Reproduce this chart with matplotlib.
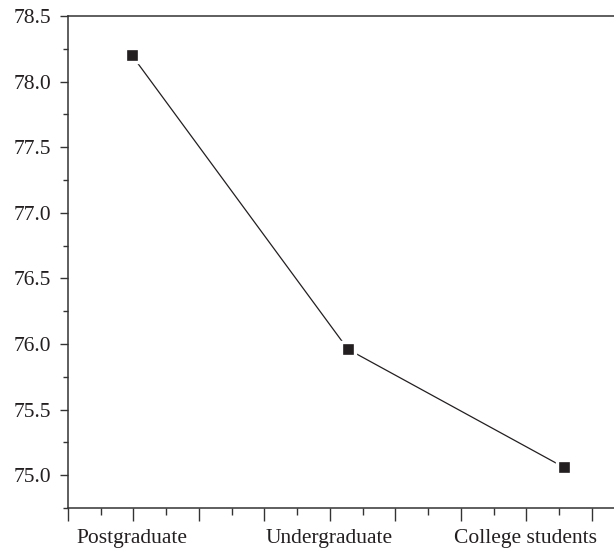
import matplotlib
matplotlib.use("Agg")
from matplotlib import pyplot as plt
from matplotlib.transforms import blended_transform_factory
import numpy as np

categories = ["Postgraduate", "Undergraduate", "College students"]
scores = [78.2, 75.96, 75.06]
y_ticks = [75.0, 75.5, 76.0, 76.5, 77.0, 77.5, 78.0, 78.5]

plt.rcParams["font.family"] = ["Liberation Serif", "DejaVu Serif"]
plt.rcParams["font.size"] = 15.5

fig = plt.figure(figsize=(6.14, 5.5), dpi=100)
# axes runs off the right edge, like the source
ax = fig.add_axes([68 / 614, 1 - 508 / 550, 557 / 614, (508 - 16) / 550])

x = np.arange(len(categories))
ax.plot(x, scores, color="#231f20", lw=0.9, zorder=2)
ax.plot(x, scores, ls="none", marker="s", markersize=9.6,
        markerfacecolor="#231f20", markeredgecolor="white",
        markeredgewidth=2.4, zorder=3)

ax.set_xlim(-0.296, 2.283)
ax.set_ylim(74.76, 78.5)

step = 0.3032
major = -0.296 + step * np.arange(0, 9)
minor = major + step / 2
ax.set_xticks(major)
ax.set_xticks(minor, minor=True)
ax.set_xticklabels([])
ax.set_yticks(y_ticks)
ax.set_yticks(np.arange(74.75, 78.5, 0.25), minor=True)
ax.set_yticklabels([f"{v:.1f}" for v in y_ticks])

ax.tick_params(axis="x", which="major", direction="out", length=9, width=1, color="#333333")
ax.tick_params(axis="x", which="minor", direction="out", length=5, width=1, color="#333333")
ax.tick_params(axis="y", which="major", direction="out", length=6, width=1, color="#333333", pad=6)
ax.tick_params(axis="y", which="minor", direction="out", length=3.5, width=1, color="#333333")
ax.tick_params(axis="y", labelcolor="#231f20")

for s in ["left", "bottom", "top"]:
    ax.spines[s].set_color("#333333")
    ax.spines[s].set_linewidth(1.1)
ax.spines["right"].set_visible(False)

# category labels under the axis
trans = blended_transform_factory(ax.transData, ax.transAxes)
label_x = [0.0, 0.912, 1.82]
for lx, name in zip(label_x, categories):
    ax.text(lx, -0.042, name, transform=trans, ha="center", va="top",
            color="#231f20")

fig.savefig("out.png", dpi=100)
